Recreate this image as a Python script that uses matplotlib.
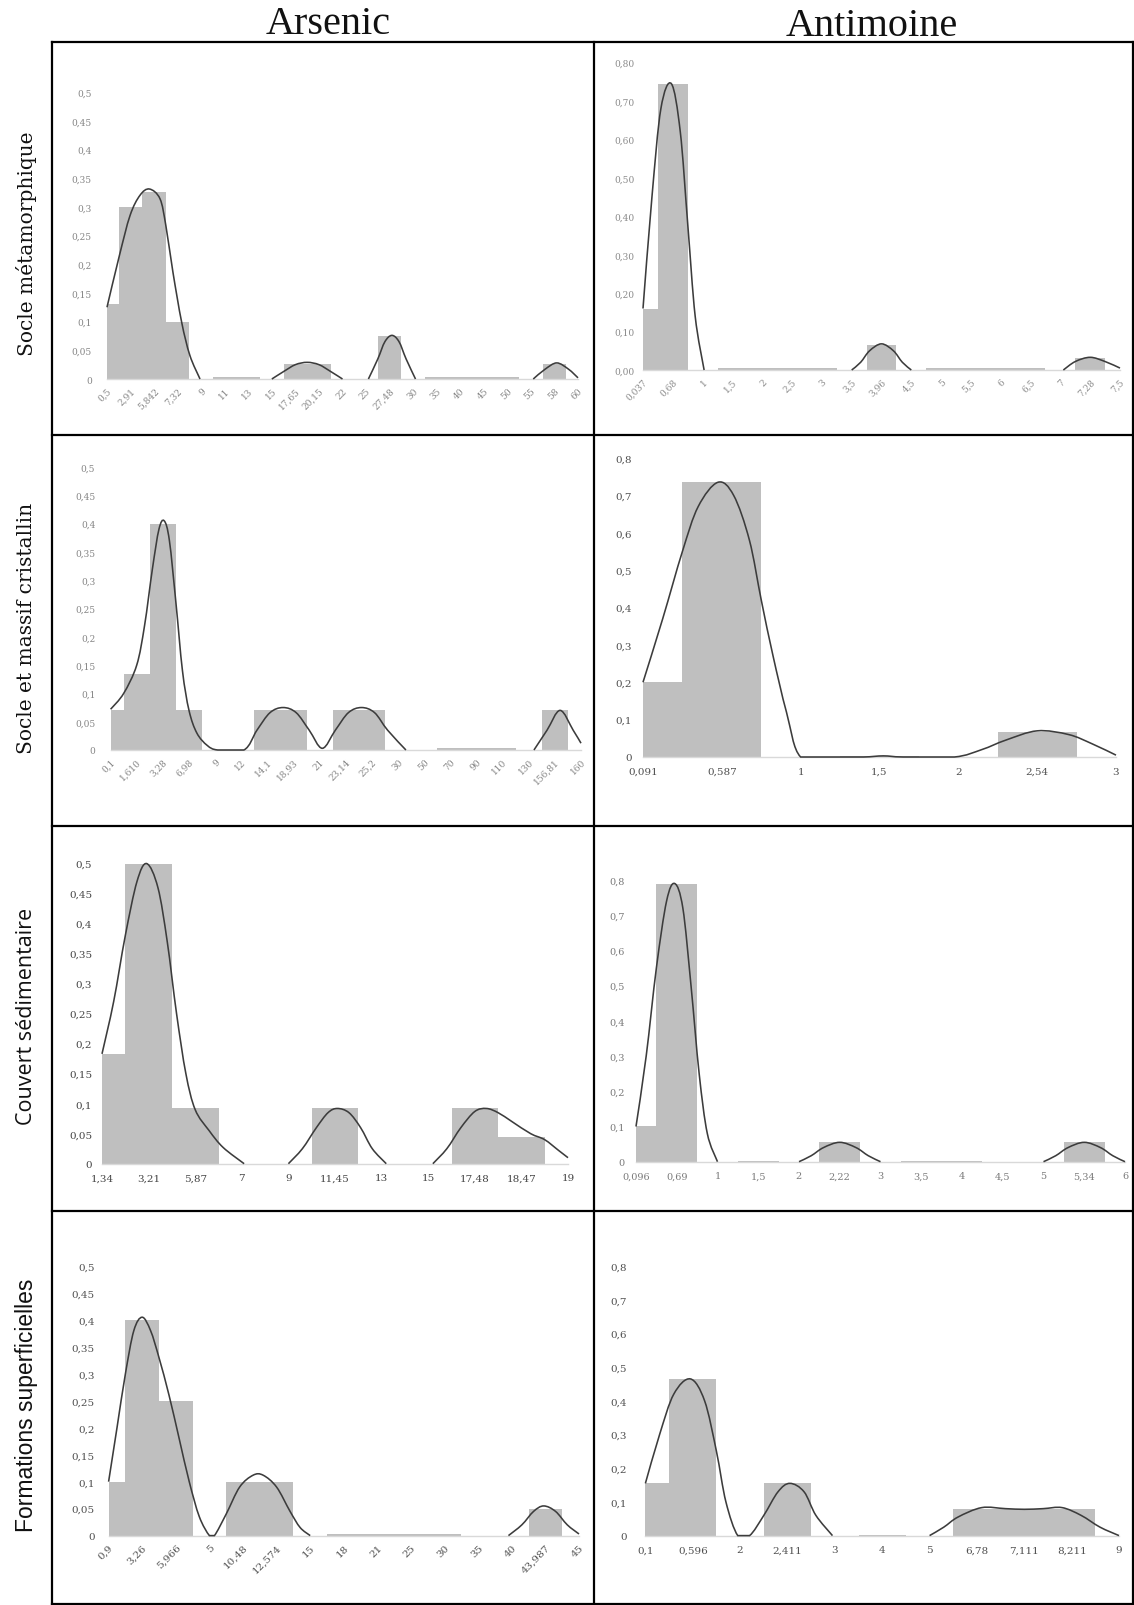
import matplotlib
matplotlib.use("Agg")
import matplotlib.pyplot as plt
from matplotlib.lines import Line2D
from matplotlib.path import Path
from matplotlib.patches import PathPatch
import numpy as np

nan = float("nan")

# ---------------- data ----------------
col_titles = ["Arsenic", "Antimoine"]
row_titles = ["Socle métamorphique", "Socle et massif cristallin",
              "Couvert sédimentaire", "Formations superficielles"]

yl_as = ["0", "0,05", "0,1", "0,15", "0,2", "0,25", "0,3", "0,35", "0,4", "0,45", "0,5"]
yv_as = [0, 0.05, 0.1, 0.15, 0.2, 0.25, 0.3, 0.35, 0.4, 0.45, 0.5]
yl_sb1 = ["0,00", "0,10", "0,20", "0,30", "0,40", "0,50", "0,60", "0,70", "0,80"]
yl_sb = ["0", "0,1", "0,2", "0,3", "0,4", "0,5", "0,6", "0,7", "0,8"]
yv_sb = [0, 0.1, 0.2, 0.3, 0.4, 0.5, 0.6, 0.7, 0.8]

# Arsenic - socle metamorphique
a1_labels = ["0,5", "2,91", "5,842", "7,32", "9", "11", "13", "15", "17,65", "20,15", "22",
             "25", "27,48", "30", "35", "40", "45", "50", "55", "58", "60"]
a1_freq = [0.13, 0.30, 0.325, 0.10, 0, 0.003, 0.003, 0, 0.027, 0.027, 0,
           0, 0.075, 0, 0.003, 0.003, 0.003, 0.003, 0, 0.026, 0]
a1_cx = [0, 0.52, 0.98, 1.4, 1.8, 2.25, 2.5, 2.8, 3.17, 3.52, 3.95, nan,
         7.0, 7.5, 8.0, 8.5, 9.0, 9.5, 10.0, nan,
         11.1, 11.5, 11.8, 12.1, 12.4, 12.7, 13.1, nan,
         18.1, 18.6, 19.1, 19.6, 20.0]
a1_cy = [0.125, 0.214, 0.285, 0.32, 0.331, 0.314, 0.267, 0.186, 0.099, 0.041, 0.0, nan,
         0.0, 0.013, 0.025, 0.029, 0.025, 0.013, 0.0, nan,
         0.0, 0.035, 0.065, 0.076, 0.065, 0.035, 0.0, nan,
         0.0, 0.017, 0.028, 0.017, 0.002]

# Antimoine - socle metamorphique
b1_labels = ["0,037", "0,68", "1", "1,5", "2", "2,5", "3", "3,5", "3,96", "4,5", "5",
             "5,5", "6", "6,5", "7", "7,28", "7,5"]
b1_freq = [0.16, 0.745, 0, 0.004, 0.004, 0.004, 0.004, 0, 0.065, 0, 0.004,
           0.004, 0.004, 0.004, 0, 0.03, 0]
b1_cx = [0, 0.3, 0.6, 0.95, 1.25, 1.5, 1.75, 2.05, nan,
         7.0, 7.3, 7.6, 8.0, 8.4, 8.7, 9.0, nan,
         14.1, 14.5, 15.0, 15.5, 16.0]
b1_cy = [0.16, 0.45, 0.68, 0.745, 0.62, 0.38, 0.14, 0.0, nan,
         0.0, 0.02, 0.05, 0.068, 0.05, 0.02, 0.0, nan,
         0.0, 0.022, 0.033, 0.022, 0.005]

# Arsenic - socle et massif cristallin
a2_labels = ["0,1", "1,610", "3,28", "6,98", "9", "12", "14,1", "18,93", "21", "23,14",
             "25,2", "30", "50", "70", "90", "110", "130", "156,81", "160"]
a2_freq = [0.07, 0.135, 0.40, 0.07, 0, 0, 0.07, 0.07, 0, 0.07,
           0.07, 0, 0, 0.003, 0.003, 0.003, 0, 0.07, 0]
a2_cx = [0, 0.5, 1.0, 1.3, 1.6, 1.85, 2.05, 2.25, 2.5, 2.75, 3.0, 3.3, 3.7, 4.1,
         5.1, 5.6, 6.1, 6.6, 7.1, 7.6, 8.1, 8.6, 9.1, 9.6, 10.1, 10.6, 11.3, nan,
         16.2, 16.7, 17.2, 17.7, 18.0]
a2_cy = [0.072, 0.1, 0.15, 0.22, 0.32, 0.39, 0.405, 0.37, 0.26, 0.14, 0.07, 0.03, 0.008, 0.0,
         0.0, 0.035, 0.066, 0.075, 0.066, 0.035, 0.003, 0.035, 0.066, 0.075, 0.066, 0.035, 0.0, nan,
         0.0, 0.035, 0.07, 0.035, 0.012]

# Antimoine - socle et massif cristallin
b2_labels = ["0,091", "0,587", "1", "1,5", "2", "2,54", "3"]
b2_freq = [0.2, 0.735, 0, 0.002, 0, 0.068, 0]
b2_cx = [0, 0.25, 0.5, 0.7, 0.95, 1.15, 1.35, 1.5, 1.65, 1.82, 2.0, 2.4, 2.8, 3.05, 3.3,
         3.95, 4.3, 4.6, 5.0, 5.4, 5.7, 6.0]
b2_cy = [0.2, 0.37, 0.55, 0.67, 0.735, 0.70, 0.58, 0.42, 0.27, 0.12, 0.0, 0.0, 0.0, 0.003, 0.0,
         0.0, 0.02, 0.045, 0.07, 0.06, 0.035, 0.005]

# Arsenic - couvert sedimentaire
a3_labels = ["1,34", "3,21", "5,87", "7", "9", "11,45", "13", "15", "17,48", "18,47", "19"]
a3_freq = [0.183, 0.5, 0.092, 0, 0, 0.092, 0, 0, 0.092, 0.045, 0]
a3_cx = [0, 0.25, 0.5, 0.75, 0.96, 1.2, 1.4, 1.6, 1.8, 2.0, 2.3, 2.6, 3.05, nan,
         4.0, 4.3, 4.6, 4.85, 5.05, 5.3, 5.55, 5.8, 6.1, nan,
         7.1, 7.4, 7.7, 8.0, 8.25, 8.5, 8.8, 9.2, 9.5, 9.8, 10.0]
a3_cy = [0.183, 0.27, 0.38, 0.47, 0.5, 0.46, 0.37, 0.25, 0.15, 0.09, 0.055, 0.027, 0.0, nan,
         0.0, 0.025, 0.06, 0.085, 0.092, 0.085, 0.06, 0.025, 0.0, nan,
         0.0, 0.025, 0.06, 0.087, 0.092, 0.085, 0.07, 0.05, 0.04, 0.022, 0.01]

# Antimoine - couvert sedimentaire
b3_labels = ["0,096", "0,69", "1", "1,5", "2", "2,22", "3", "3,5", "4", "4,5", "5", "5,34", "6"]
b3_freq = [0.1, 0.79, 0, 0.003, 0, 0.055, 0, 0.002, 0.002, 0, 0, 0.055, 0]
b3_cx = [0, 0.25, 0.5, 0.75, 0.95, 1.15, 1.35, 1.55, 1.75, 2.0, nan,
         4.0, 4.3, 4.6, 5.0, 5.4, 5.7, 6.0, nan,
         10.0, 10.3, 10.6, 11.0, 11.4, 11.7, 12.0]
b3_cy = [0.1, 0.3, 0.55, 0.74, 0.79, 0.72, 0.5, 0.25, 0.08, 0.0, nan,
         0.0, 0.017, 0.04, 0.055, 0.04, 0.017, 0.0, nan,
         0.0, 0.017, 0.04, 0.055, 0.04, 0.017, 0.0]

# Arsenic - formations superficielles
a4_labels = ["0,9", "3,26", "5,966", "5", "10,48", "12,574", "15", "18", "21", "25",
             "30", "35", "40", "43,987", "45"]
a4_freq = [0.1, 0.4, 0.25, 0, 0.1, 0.1, 0, 0.003, 0.003, 0.003, 0.003, 0, 0, 0.05, 0]
a4_cx = [0, 0.25, 0.5, 0.75, 1.0, 1.25, 1.5, 1.8, 2.1, 2.4, 2.7, 3.0,
         3.15, 3.5, 3.9, 4.3, 4.6, 5.0, 5.4, 5.7, 6.0, nan,
         11.9, 12.3, 12.65, 12.95, 13.3, 13.65, 14.0]
a4_cy = [0.1, 0.2, 0.3, 0.38, 0.405, 0.38, 0.33, 0.26, 0.18, 0.1, 0.035, 0.0,
         0.0, 0.04, 0.09, 0.112, 0.112, 0.09, 0.045, 0.015, 0.0, nan,
         0.0, 0.02, 0.045, 0.055, 0.045, 0.02, 0.003]

# Antimoine - formations superficielles
b4_labels = ["0,1", "0,596", "2", "2,411", "3", "4", "5", "6,78", "7,111", "8,211", "9"]
b4_freq = [0.155, 0.465, 0, 0.155, 0, 0.003, 0, 0.08, 0.08, 0.08, 0]
b4_cx = [0, 0.3, 0.6, 0.95, 1.25, 1.5, 1.7, 1.95, 2.2, 2.5, 2.8, 3.05, 3.35, 3.6, 3.95, nan,
         6.0, 6.3, 6.6, 7.1, 7.6, 8.0, 8.4, 8.8, 9.2, 9.6, 10.0]
b4_cy = [0.155, 0.3, 0.42, 0.465, 0.4, 0.25, 0.1, 0.0, 0.0, 0.06, 0.13, 0.155, 0.13, 0.06, 0.0, nan,
         0.0, 0.025, 0.055, 0.083, 0.08, 0.078, 0.08, 0.083, 0.06, 0.025, 0.0]

# ---------------- layout ----------------
W, H = 1134, 1606
fig = plt.figure(figsize=(W / 100, H / 100), dpi=100)
fig.patch.set_facecolor("white")

def fx(x):
    return x / W

def fy(y):
    return 1 - y / H

BAR = "#bfbfbf"
LINE = "#3c3c3c"


def smooth_path(xs, ys):
    """Bezier path passing through the read points (Catmull-Rom style tangents)."""
    verts, codes = [], []
    seg = []
    segs = []
    for x, y in zip(xs, ys):
        if np.isnan(x):
            if seg:
                segs.append(seg)
            seg = []
        else:
            seg.append((x, y))
    if seg:
        segs.append(seg)
    for s in segs:
        p = np.array(s, dtype=float)
        m = len(p)
        verts.append(p[0]); codes.append(Path.MOVETO)
        for i in range(m - 1):
            p0 = p[i - 1] if i > 0 else p[i]
            p1, p2 = p[i], p[i + 1]
            p3 = p[i + 2] if i + 2 < m else p[i + 1]
            c1 = p1 + (p2 - p0) / 6.0
            c2 = p2 - (p3 - p1) / 6.0
            c1[1] = max(c1[1], 0.0)
            c2[1] = max(c2[1], 0.0)
            verts += [c1, c2, p2]
            codes += [Path.CURVE4, Path.CURVE4, Path.CURVE4]
    return Path(verts, codes)


def panel(box, labels, freq, cx, cy, yvals, ylabels, ymax, rot, tcol, tsize, ypad):
    x0, x1, y0, yt = box
    ax = fig.add_axes([fx(x0), fy(y0), fx(x1) - fx(x0), fy(yt) - fy(y0)])
    n = len(labels)
    idx = np.arange(n)
    ax.bar(idx, freq, width=1.0, color=BAR, edgecolor="none", zorder=1)
    ax.add_patch(PathPatch(smooth_path(cx, cy), facecolor="none", edgecolor=LINE,
                           lw=1.15, zorder=3, clip_on=False))
    ax.set_xlim(0, n - 1)
    ax.set_ylim(0, ymax)
    for s in ["top", "right", "left"]:
        ax.spines[s].set_visible(False)
    ax.spines["bottom"].set_color("#d9d9d9")
    ax.spines["bottom"].set_linewidth(1.0)
    ax.set_xticks(idx)
    if rot:
        ax.set_xticklabels(labels, rotation=45, ha="right", va="top",
                           rotation_mode="anchor", fontsize=tsize, color=tcol,
                           family="DejaVu Serif")
        ax.tick_params(axis="x", length=0, pad=5)
    else:
        ax.set_xticklabels(labels, fontsize=tsize, color=tcol, family="DejaVu Serif")
        ax.tick_params(axis="x", length=0, pad=7)
    ax.set_yticks(yvals)
    ax.set_yticklabels(ylabels, fontsize=tsize, color=tcol, family="DejaVu Serif")
    ax.tick_params(axis="y", length=0, pad=ypad)
    ax.patch.set_alpha(0)
    return ax

panel((107, 578, 380, 93), a1_labels, a1_freq, a1_cx, a1_cy, yv_as, yl_as, 0.5, True, "#858585", 6.5, 11)
panel((643, 1120, 371, 63.5), b1_labels, b1_freq, b1_cx, b1_cy, yv_sb, yl_sb1, 0.8, True, "#8a8a8a", 6.5, 6)
panel((110.6, 581, 751, 468), a2_labels, a2_freq, a2_cx, a2_cy, yv_as, yl_as, 0.5, True, "#858585", 6.5, 11)
panel((643, 1116, 758, 459), b2_labels, b2_freq, b2_cx, b2_cy, yv_sb, yl_sb, 0.8, False, "#505050", 7.5, 8)
panel((102, 568, 1164.7, 864.6), a3_labels, a3_freq, a3_cx, a3_cy, yv_as, yl_as, 0.5, False, "#454545", 7.5, 7)
panel((636, 1125, 1162.7, 881), b3_labels, b3_freq, b3_cx, b3_cy, yv_sb, yl_sb, 0.8, False, "#7a7a7a", 7, 8)
panel((108.6, 579, 1536.6, 1267), a4_labels, a4_freq, a4_cx, a4_cy, yv_as, yl_as, 0.5, True, "#505050", 7.5, 10)
panel((645.4, 1119, 1536.6, 1267), b4_labels, b4_freq, b4_cx, b4_cy, yv_sb, yl_sb, 0.8, False, "#505050", 7.5, 13)

# ---------------- frame ----------------
def hline(y, xa, xb):
    fig.add_artist(Line2D([fx(xa), fx(xb)], [fy(y), fy(y)], color="black", lw=1.6))

def vline(x, ya, yb):
    fig.add_artist(Line2D([fx(x), fx(x)], [fy(ya), fy(yb)], color="black", lw=1.6))

hline(43, 52, 1134)
for yy in [436, 827, 1212]:
    hline(yy, 52, 1134)
hline(1605, 52, 1134)
vline(52, 43, 1606)
vline(594, 43, 1606)
vline(1133, 43, 1606)

# ---------------- titles ----------------
fig.text(fx(328), fy(24), col_titles[0], ha="center", va="center",
         fontsize=29, family="Liberation Serif", color="#111111")
fig.text(fx(872), fy(26), col_titles[1], ha="center", va="center",
         fontsize=29, family="Liberation Serif", color="#111111")

row_fonts = [("DejaVu Serif", 14.5), ("DejaVu Serif", 14.5), ("Open Sans", 15.5), ("Liberation Sans", 16.5)]
row_centers = [244, 628, 1016, 1405]
for t, yc, (fam, fs) in zip(row_titles, row_centers, row_fonts):
    fig.text(fx(27), fy(yc), t, rotation=90, ha="center", va="center",
             fontsize=fs, family=fam, color="#111111")

fig.savefig("out.png", dpi=100, facecolor="white")
